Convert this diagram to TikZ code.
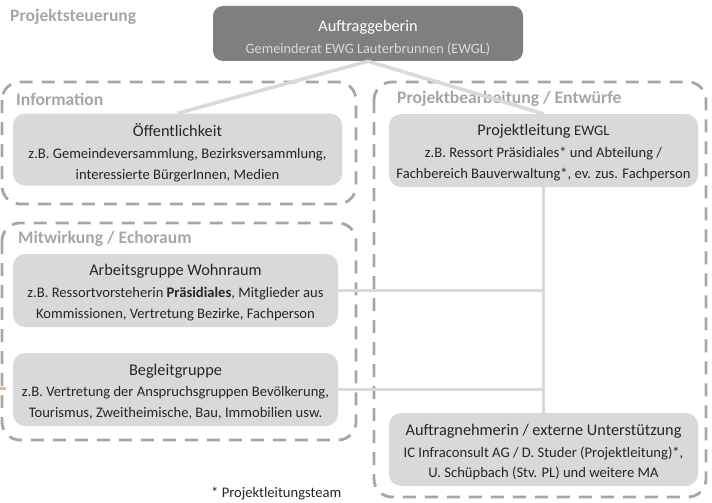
\documentclass[tikz,border=0pt]{standalone}
\usepackage{fontspec}
\setmainfont{Carlito}
\definecolor{boxfill}{HTML}{D9D9D9}
\definecolor{topfill}{HTML}{7F7F7F}
\definecolor{dashcol}{HTML}{A6A6A6}
\definecolor{labcol}{HTML}{A6A6A6}
\definecolor{txt}{HTML}{262626}
\definecolor{linkcol}{HTML}{D9D9D9}
\definecolor{orangemark}{HTML}{F4B183}
\tikzset{
  box/.style={fill=boxfill, rounded corners=12pt, inner sep=0pt},
  topbox/.style={fill=topfill, rounded corners=10pt, inner sep=0pt},
  boxtext/.style={align=center, text=txt, inner sep=0pt, font=\fontsize{14.6}{20.5}\selectfont},
  toptext/.style={align=center, text=white, inner sep=0pt, font=\fontsize{14.3}{21}\selectfont},
  group/.style={draw=dashcol, line width=2.8pt, dash pattern=on 13pt off 9pt, rounded corners=18pt},
  grouplabel/.style={text=labcol, font=\bfseries\fontsize{17.6}{20}\selectfont, anchor=west, inner sep=0pt},
  link/.style={draw=linkcol, line width=3.5pt},
}
\newcommand{\ttl}[1]{{\fontsize{16.3}{19}\selectfont #1}}
\begin{document}
\begin{tikzpicture}[x=1pt,y=-1pt]
\useasboundingbox (0,0) rectangle (712,503);
% dashed groups
\draw[group] (2,82) rectangle (356,204);
\draw[group] (2,223) rectangle (356,440);
\draw[group] (374,82) rectangle (706,497);
% labels
\node[grouplabel] (lps) at (10,17) {Projektsteuerung};
\node[grouplabel] (linf) at (16,99) {Information};
\node[grouplabel] (lmit) at (18,239) {Mitwirkung / Echoraum};
\node[grouplabel] (lpb) at (397,99) {Projektbearbeitung / Entwürfe};
% boxes
\node[topbox, minimum width=310pt, minimum height=55pt] (ag) at (368,33.5) {};
\node[box, minimum width=329pt, minimum height=72pt] (oe) at (177.5,149.5) {};
\node[box, minimum width=309pt, minimum height=73pt] (pl) at (543.5,150.5) {};
\node[box, minimum width=325pt, minimum height=73pt] (aw) at (175.5,290.5) {};
\node[box, minimum width=325pt, minimum height=73pt] (bg) at (175.5,389.5) {};
\node[box, minimum width=309pt, minimum height=73pt] (an) at (543.5,449.5) {};
% box texts
\node[toptext] (ag-t) at ([yshift=-4pt]ag.center)
  {\ttl{Auftraggeberin}\\[1pt]{\color{boxfill}Gemeinderat EWG Lauterbrunnen (EWGL)}};
\node[boxtext] (oe-t) at ([yshift=-3pt]oe.center)
  {\ttl{Öffentlichkeit}\\[2pt]z.B. Gemeindeversammlung, Bezirksversammlung,\\interessierte BürgerInnen, Medien};
\node[boxtext] (pl-t) at ([yshift=-2pt]pl.center)
  {\ttl{Projektleitung \fontsize{14.6}{17}\selectfont EWGL}\\[1.5pt]z.B. Ressort Präsidiales* und Abteilung /\\Fachbereich Bauverwaltung*, ev. zus. Fachperson};
\node[boxtext] (aw-t) at ([yshift=-2pt]aw.center)
  {\ttl{Arbeitsgruppe Wohnraum}\\[1.5pt]z.B. Ressortvorsteherin \textbf{Präsidiales}, Mitglieder aus\\Kommissionen, Vertretung Bezirke, Fachperson};
\node[boxtext] (bg-t) at ([yshift=-2pt]bg.center)
  {\ttl{Begleitgruppe}\\[1pt]z.B. Vertretung der Anspruchsgruppen Bevölkerung,\\Tourismus, Zweitheimische, Bau, Immobilien usw.};
\node[boxtext] (an-t) at ([yshift=-3pt]an.center)
  {\ttl{Auftragnehmerin / externe Unterstützung}\\[1pt]IC Infraconsult AG / D. Studer (Projektleitung)*,\\U. Schüpbach (Stv. PL) und weitere MA};
% connectors
\coordinate (j1) at (pl.south |- aw.east);
\coordinate (j2) at (pl.south |- bg.east);
\draw[link] (ag.south) -- (oe.north);
\draw[link] (ag.south) -- (pl.north);
\draw[link] (pl.south) -- (an.north);
\draw[link] (aw.east) -- (j1);
\draw[link] (bg.east) -- (j2);
% footnote
\node[anchor=west, inner sep=0pt, text=txt, font=\fontsize{14.6}{17}\selectfont] (fn) at (211,494) {* Projektleitungsteam};
% stray orange mark
\fill[orangemark] (0,386.5) rectangle (6,390);
\end{tikzpicture}
\end{document}
